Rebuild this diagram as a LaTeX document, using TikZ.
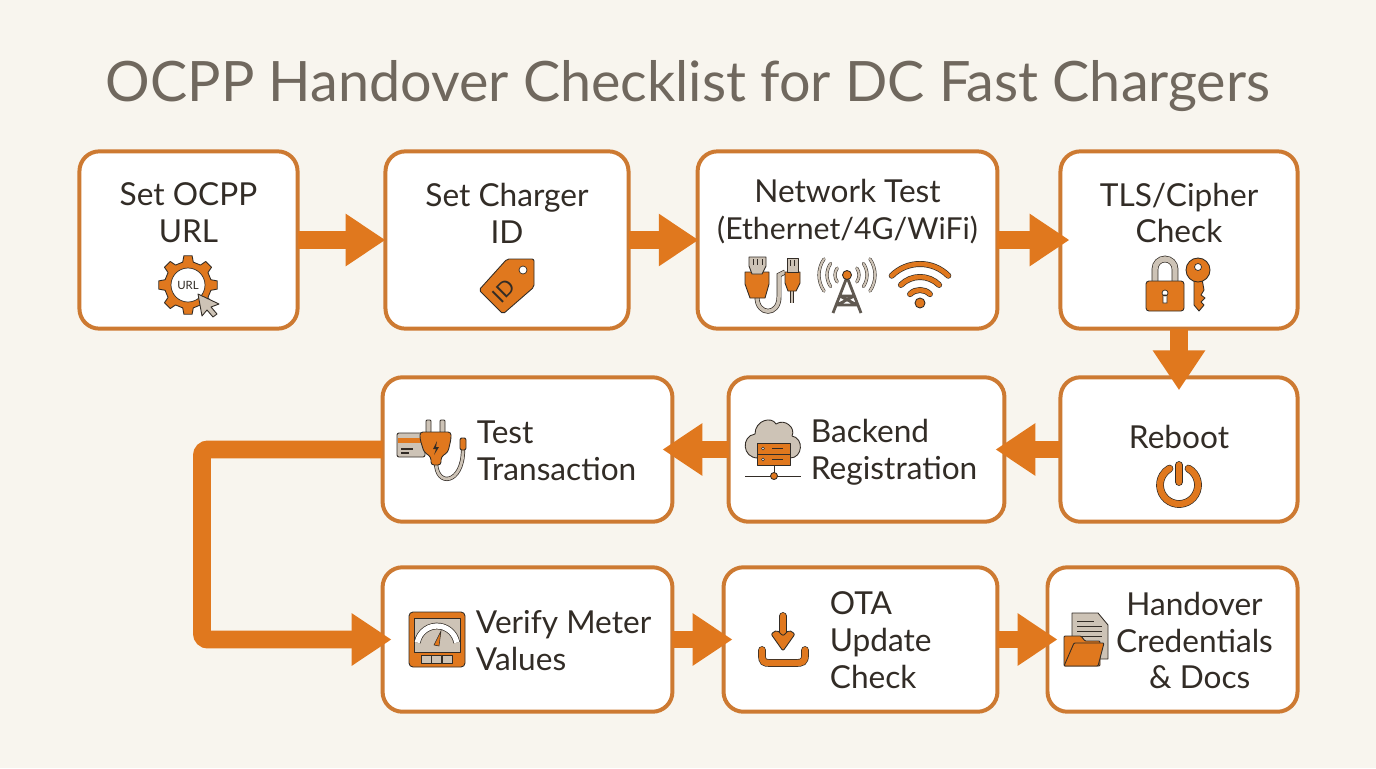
\documentclass[tikz,border=0pt]{standalone}
\usepackage{fontspec}
\setmainfont{Lato}
\usetikzlibrary{arrows.meta,positioning,calc}
\definecolor{paper}{RGB}{248,245,238}
\definecolor{edge}{RGB}{205,122,50}
\definecolor{accent}{RGB}{224,120,30}
\definecolor{ink}{RGB}{50,44,38}
\definecolor{headline}{RGB}{112,104,94}
\definecolor{stone}{RGB}{205,195,182}
\def\px{0.56693pt}

\begin{document}
\begin{tikzpicture}[
    x=0.02cm, y=-0.02cm,
    box/.style={rectangle, draw=edge, fill=white, line width=4*\px, rounded corners=20*\px, minimum height=145*\px},
    lbl/.style={text=ink, font=\fontsize{18}{21}\selectfont, align=center, inner sep=0pt},
    lblleft/.style={lbl, align=left, anchor=west},
    flow/.style={draw=accent, line width=18*\px, shorten <=-2*\px, -{Triangle[length=40*\px, width=50*\px]}},
    ico/.style={fill=accent, draw=ink, line width=0.5pt, line join=round},
    icogray/.style={fill=stone, draw=ink, line width=0.5pt, line join=round},
    ring/.style={draw=ink, double=accent, line width=0.4pt, double distance=2.6pt, line cap=round},
    ringgray/.style={draw=ink, double=stone, line width=0.3pt, double distance=1.2pt, line cap=round}
]
\fill[paper] (0,0) rectangle (1376,768);

% Title
\node[text=headline, font=\fontsize{31.7}{36}\selectfont, inner sep=0pt] (title) at (688,86) {OCPP Handover Checklist for DC Fast Chargers};

% Top row
\node[box, minimum width=219*\px, minimum height=178*\px] (url) at (188.5,240) {};
\node[box, minimum width=244*\px, minimum height=178*\px] (chargerid) at (507,240) {};
\node[box, minimum width=301*\px, minimum height=178*\px] (network) at (847.5,240) {};
\node[box, minimum width=238*\px, minimum height=178*\px] (tls) at (1179,240) {};

% Middle row
\node[box, minimum width=238*\px] (reboot) at (1179,449.5) {};
\node[box, minimum width=277*\px] (backend) at (866.5,449.5) {};
\node[box, minimum width=291*\px] (transaction) at (527.5,449.5) {};

% Bottom row
\node[box, minimum width=291*\px] (meter) at (527.5,639.5) {};
\node[box, minimum width=275*\px] (ota) at (860.5,639.5) {};
\node[box, minimum width=251*\px] (docs) at (1172.5,639.5) {};

% Labels
\node[lbl] (urltext) at ($(url.center)+(0,-27)$) {Set OCPP\\URL};
\node[lbl] (idtext) at ($(chargerid.center)+(0,-27)$) {Set Charger\\ID};
\node[lbl] (nettext) at ($(network.center)+(0,-28)$) {Network Test\\{\fontsize{17.2}{21}\selectfont (Ethernet/4G/WiFi)}};
\node[lbl] (tlstext) at ($(tls.center)+(0,-27)$) {TLS/Cipher\\Check};
\node[lbl] (reboottext) at ($(reboot.center)+(0,-13)$) {Reboot};
\node[lblleft] (backendtext) at ($(backend.west)+(84,3)$) {Backend\\Registration};
\node[lblleft] (transtext) at ($(transaction.west)+(96,1)$) {Test\\Transaction};
\node[lblleft] (metertext) at ($(meter.west)+(95,1)$) {Verify Meter\\Values};
\node[lblleft] (otatext) at ($(ota.west)+(108,1)$) {OTA\\Update\\Check};
\node[lbl] (docstext) at ($(docs.center)+(22,1)$) {Handover\\Credentials\\\,\,\& Docs};

% Arrows
\coordinate (turntop) at (202,449.5);
\coordinate (turnbottom) at (202,639.5);
\draw[flow, shorten >=-2*\px] (url) -- (chargerid);
\draw[flow, shorten >=-3*\px] (chargerid) -- (network);
\draw[flow, shorten >=-11*\px] (network) -- (tls);
\draw[flow, shorten >=-15*\px] (tls) -- (reboot);
\draw[flow, shorten >=-11*\px] (reboot) -- (backend);
\draw[flow, shorten >=-12*\px] (backend) -- (transaction);
\draw[flow, rounded corners=6*\px, shorten >=-11*\px] (transaction.west) -- (turntop) -- (turnbottom) -- (meter.west);
\draw[flow, shorten >=-11*\px] (meter) -- (ota);
\draw[flow, shorten >=-12*\px] (ota) -- (docs);

% Gear icon
\path[ico, shift={(188,285)}] (-13:23.5) \foreach \a in {0,45,...,315} { -- ({\a-13}:23.5) -- ({\a-8}:29.5) -- ({\a+8}:29.5) -- ({\a+13}:23.5) } -- cycle;
\fill[white, draw=ink, line width=0.4pt] (188,285) circle (17);
\node[text=ink, font=\fontsize{6.5}{7}\selectfont, inner sep=0pt] (urlmark) at (188,285) {URL};
\path[icogray] (198,294) -- (219,304) -- (211,307) -- (217,314) -- (213,317) -- (207,310) -- (202,316) -- cycle;

% Tag icon
\path[ico, rounded corners=2*\px] (479,290) -- (507,259) -- (534,259) -- (534,287) -- (503,314) -- cycle;
\fill[white, draw=ink, line width=0.4pt] (523,270) circle (4);
\node[text=ink, rotate=45, font=\fontsize{12}{13}\selectfont, inner sep=0pt] (tagmark) at (504,291) {ID};

% Ethernet icon
\draw[draw=ink, double=stone, line width=0.4pt, double distance=2pt] (757,297) .. controls (757,316) and (779,316) .. (779,297) -- (779,275) -- (785,272);
\draw[draw=ink, double=stone, line width=0.3pt, double distance=1.5pt] (792,288) -- (792,303);
\path[ico] (745,272) -- (769,272) -- (769,284) -- (765,298) -- (750,298) -- (745,284) -- cycle;
\path[icogray] (749,257) -- (766,257) -- (766,266) -- (762,274) -- (752,274) -- (749,266) -- cycle;
\draw[ink, line width=0.4pt] (753,259) -- (753,265) (757.5,259) -- (757.5,265) (762,259) -- (762,265);
\path[ico] (785,272) -- (800,272) -- (800,283) -- (796,291) -- (788,291) -- (785,283) -- cycle;
\path[icogray] (787,258) -- (798,258) -- (798,272) -- (787,272) -- cycle;
\draw[ink, line width=0.4pt] (790.5,260) -- (790.5,266) (794.5,260) -- (794.5,266);

% Tower icon
\draw[ink!70!stone, line width=1.6pt, line join=round] (847,277) -- (833,313) (847,277) -- (861,313) (840,296) -- (854,296) (837,305) -- (857,305) (840,296) -- (857,305) (854,296) -- (837,305);
\path[ico] (847,275) circle (4.5);
\foreach \r in {12,20,28} {
  \draw[ringgray] ($(847,275)+(-35:\r)$) arc (-35:35:\r);
  \draw[ringgray] ($(847,275)+(145:\r)$) arc (145:215:\r);
}

% Wifi icon
\path[ico] (920,303) circle (5);
\foreach \r in {14,27,40}
  \draw[ring] ($(920,304)+(-135:\r)$) arc (-135:-45:\r);

% Lock and key icon
\draw[draw=ink, double=stone, line width=0.4pt, double distance=3pt] (1155,282) -- (1155,269) arc (180:360:10) -- (1175,282);
\path[ico, rounded corners=3*\px] (1146,281) rectangle (1184,311);
\fill[white, draw=ink, line width=0.4pt] (1165,293) circle (3) (1163,295) rectangle (1167,303);
\path[ico] (1194,279) -- (1194,305) -- (1199,311) -- (1204,305) -- (1201,302) -- (1205,298) -- (1201,295) -- (1204,290) -- (1202,279) -- cycle;
\path[ico] (1198,270) circle (12);
\fill[white, draw=ink, line width=0.4pt] (1198,267) circle (3.5);

% Power icon
\draw[ring, double distance=3.6pt] ($(1179,485)+(-60:19)$) arc (-60:240:19);
\draw[ring, double distance=3.6pt] (1179,465) -- (1179,482);

% Cloud server icon
\path[icogray] (758,458) .. controls (742,458) and (741,436) .. (755,434) .. controls (755,420) and (772,416) .. (776,424) .. controls (785,418) and (796,428) .. (792,436) .. controls (804,438) and (803,458) .. (790,458) -- cycle;
\path[ico] (757,443) rectangle (790,454);
\path[ico] (757,454) rectangle (790,465);
\fill[white, draw=ink, line width=0.3pt] (763,448.5) circle (1.6) (763,459.5) circle (1.6);
\draw[ink, line width=0.7pt] (772,448.5) -- (783,448.5) (772,459.5) -- (783,459.5);
\draw[ink, line width=0.5pt] (745,476) -- (801,476) (774,465) -- (774,476);
\path[ico] (774,476) circle (3.5);

% Card and plug icon
\path[icogray, rounded corners=2*\px] (397,433) rectangle (425,457);
\fill[accent] (398,438) rectangle (424,443);
\draw[ink, line width=0.6pt] (401,449) -- (413,449) (401,453) -- (409,453);
\draw[draw=ink, double=stone, line width=0.4pt, double distance=1.6pt] (436,462) .. controls (436,488) and (463,484) .. (463,450);
\path[ico, rounded corners=2*\px] (463,438) -- (466,438) -- (466,450) -- (460,450) -- (460,438) -- cycle;
\path[icogray, rounded corners=1*\px] (426,420) rectangle (431,433);
\path[icogray, rounded corners=1*\px] (440,420) rectangle (445,433);
\path[ico, rounded corners=3*\px] (420,432) -- (451,432) -- (451,439) -- (448,452) -- (441,457) -- (441,465) -- (431,465) -- (431,457) -- (424,452) -- (420,439) -- cycle;
\fill[ink] (437,441) -- (433,449) -- (436,449) -- (434,455) -- (439,447) -- (436,447) -- cycle;

% Meter icon
\path[ico, rounded corners=4*\px] (409,612) rectangle (465,667);
\path[icogray] (414,618) rectangle (460,652);
\draw[draw=ink, double=white, line width=0.4pt, double distance=3pt] ($(437,646)+(-170:20)$) arc (-170:-10:20);
\fill[accent, draw=ink, line width=0.3pt] (434,645) -- (441,631) -- (439,646) -- cycle;
\foreach \b in {421,431.5,442}
  \path[icogray] (\b,655) rectangle ++(10,8);

% Download icon
\draw[ring, double distance=3.6pt] (783,616) -- (783,636);
\path[ico, rounded corners=2*\px] (771,634) -- (777,630) -- (783,636) -- (789,630) -- (795,634) -- (783,651) -- cycle;
\draw[ring, double distance=3.6pt] (762,650) -- (762,655) .. controls (762,662) and (764,663) .. (770,663) -- (796,663) .. controls (802,663) and (805,662) .. (805,655) -- (805,650);

% Folder and file icon
\path[icogray] (1072,613) -- (1098,613) -- (1108,625) -- (1108,659) -- (1072,659) -- cycle;
\draw[ink, line width=0.5pt] (1077,621) -- (1094,621) (1077,626) -- (1102,626) (1077,631) -- (1102,631) (1077,636) -- (1102,636);
\path[ico, rounded corners=1*\px] (1064,636) -- (1081,636) -- (1085,641) -- (1100,641) -- (1100,666) -- (1064,666) -- cycle;
\path[ico, rounded corners=1*\px] (1074,643) -- (1104,643) -- (1098,666) -- (1064,666) -- cycle;

\end{tikzpicture}
\end{document}
